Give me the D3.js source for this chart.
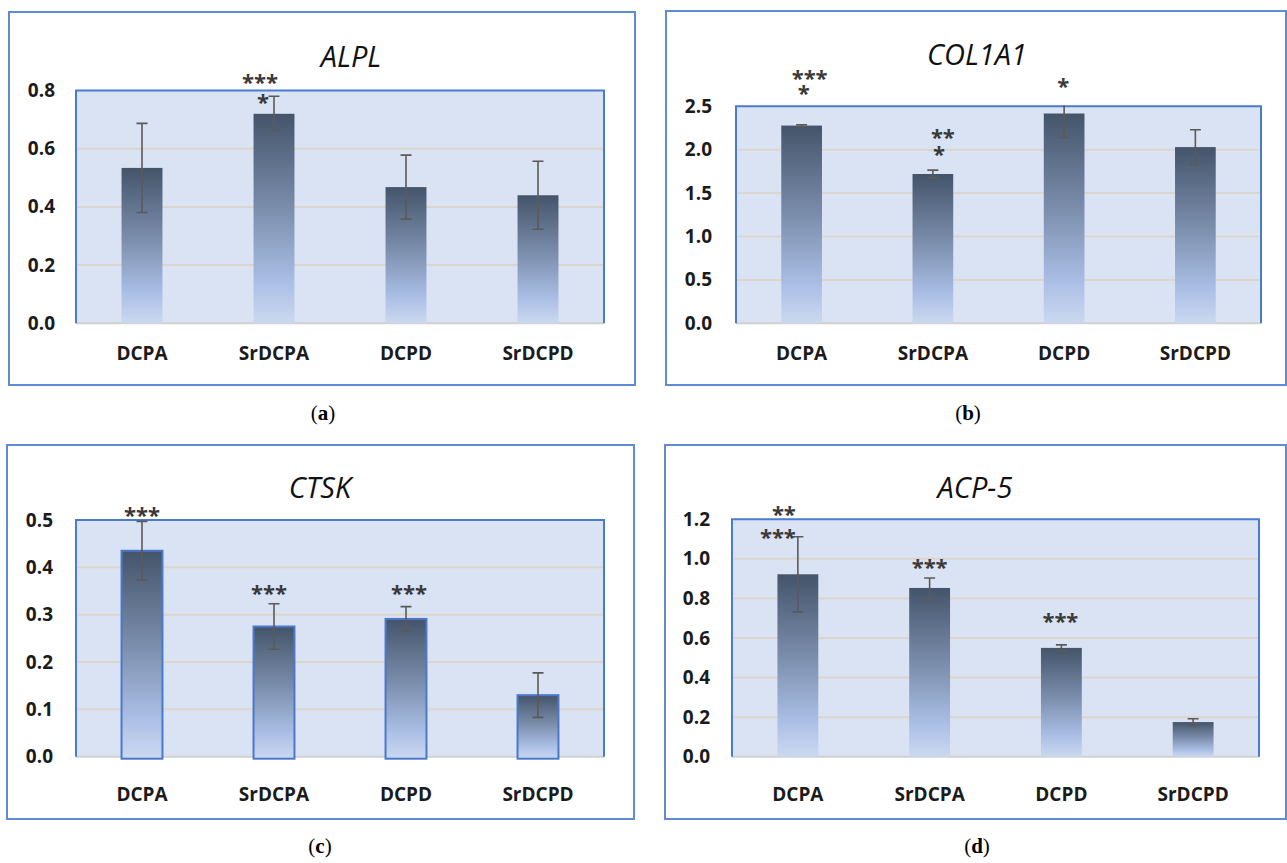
<!DOCTYPE html>
<html>
<head>
<meta charset="utf-8">
<script src="https://cdn.jsdelivr.net/npm/d3@7"></script>
<style>
  body { margin: 0; background: #fff; }
  svg { display: block; }
</style>
</head>
<body>
<svg id="fig" width="1287" height="863"></svg>
<script>
// ---- data -------------------------------------------------------------
const groups = ["DCPA", "SrDCPA", "DCPD", "SrDCPD"];

const alplMean  = [0.534, 0.720, 0.468, 0.440];
const alplSd    = [0.153, 0.060, 0.110, 0.117];
const alplTicks = [0.0, 0.2, 0.4, 0.6, 0.8];
const alplSig   = [[], ["***", "*"], [], []];

const col1a1Mean  = [2.278, 1.720, 2.417, 2.030];
const col1a1Sd    = [0.010, 0.045, 0.277, 0.200];
const col1a1Ticks = [0.0, 0.5, 1.0, 1.5, 2.0, 2.5];
const col1a1Sig   = [["***", "*"], ["**", "*"], ["*"], []];

const ctskMean  = [0.435, 0.275, 0.291, 0.130];
const ctskSd    = [0.062, 0.048, 0.026, 0.047];
const ctskTicks = [0.0, 0.1, 0.2, 0.3, 0.4, 0.5];
const ctskSig   = [["***"], ["***"], ["***"], []];

const acp5Mean  = [0.922, 0.853, 0.550, 0.175];
const acp5Sd    = [0.190, 0.050, 0.015, 0.017];
const acp5Ticks = [0.0, 0.2, 0.4, 0.6, 0.8, 1.0, 1.2];
const acp5Sig   = [["**", "***"], ["***"], ["***"], []];

// ---- layout -----------------------------------------------------------
// frame: [x, y, w, h]; plot: [left, top, right, bottom]
// sigPos: per bar, per line of stars: [dx, dy] of glyph centre from whisker top
const panels = [
  { title: "ALPL", tag: "a", mean: alplMean, sd: alplSd, ticks: alplTicks, sig: alplSig,
    frame: [9, 12, 626, 373], plot: [76, 90.5, 604, 323.3],
    titleX: 351, titleY: 67, yLabelRight: 55, xLabelY: 360, capX: 323, capY: 420,
    sigPos: [null, [[-14, -19], [-11, 1]], null, null], outlined: false },
  { title: "COL1A1", tag: "b", mean: col1a1Mean, sd: col1a1Sd, ticks: col1a1Ticks, sig: col1a1Sig,
    frame: [666, 11, 620, 374], plot: [736, 106.3, 1261, 323.3],
    titleX: 977, titleY: 65, yLabelRight: 712, xLabelY: 360, capX: 968, capY: 420,
    sigPos: [[[8, -51], [2, -36]], [[10, -38], [6, -21]], [[-1, -8]], null], outlined: false },
  { title: "CTSK", tag: "c", mean: ctskMean, sd: ctskSd, ticks: ctskTicks, sig: ctskSig,
    frame: [7, 445, 627, 374], plot: [76, 520, 604, 756.7],
    titleX: 320, titleY: 498, yLabelRight: 53, xLabelY: 801, capX: 320, capY: 853,
    sigPos: [[[0, -11]], [[-5, -15]], [[3, -18]], null], outlined: true },
  { title: "ACP-5", tag: "d", mean: acp5Mean, sd: acp5Sd, ticks: acp5Ticks, sig: acp5Sig,
    frame: [665, 445, 621, 374], plot: [732, 519.3, 1259, 756.7],
    titleX: 975, titleY: 498, yLabelRight: 710, xLabelY: 801, capX: 977, capY: 853,
    sigPos: [[[-14, -27], [-20, -4]], [[0, -16]], [[-1, -28]], null], outlined: false }
];

const SANS = "'Open Sans', 'Liberation Sans', sans-serif";
const SERIF = "'Liberation Serif', 'DejaVu Serif', serif";

const svg = d3.select("#fig");
const defs = svg.append("defs");

// vertical shading used by every bar: dark slate at the top, pale blue at the base
const grad = defs.append("linearGradient")
  .attr("id", "barFill").attr("x1", 0).attr("y1", 0).attr("x2", 0).attr("y2", 1);
[[0, "#44546a"], [0.45, "#7a8dab"], [0.8, "#aabee5"], [1, "#cbd8ef"]]
  .forEach(([o, c]) => grad.append("stop").attr("offset", o).attr("stop-color", c));

panels.forEach((p, pi) => {
  const g = svg.append("g").attr("class", "panel");
  const [fx, fy, fw, fh] = p.frame;
  const [L, T, R, B] = p.plot;
  const yMax = d3.max(p.ticks);

  // outer frame
  g.append("rect")
    .attr("x", fx).attr("y", fy).attr("width", fw).attr("height", fh)
    .attr("fill", "#fff").attr("stroke", "#5f8ad6").attr("stroke-width", 2);

  const y = d3.scaleLinear().domain([0, yMax]).range([B, T]);
  const x = d3.scaleBand().domain(groups).range([L, R])
    .paddingInner(0.69).paddingOuter(0.345);

  // plot area background
  g.append("rect")
    .attr("x", L).attr("y", y(yMax)).attr("width", R - L).attr("height", y(0) - y(yMax))
    .attr("fill", "#dae3f3");

  // horizontal gridlines
  g.append("g").selectAll("line")
    .data(p.ticks.filter(t => t > 0 && t < yMax))
    .join("line")
    .attr("x1", L).attr("x2", R)
    .attr("y1", d => y(d)).attr("y2", d => y(d))
    .attr("stroke", "#dcd5cb").attr("stroke-width", 2);

  // baseline
  g.append("line")
    .attr("x1", L).attr("x2", R).attr("y1", y(0)).attr("y2", y(0))
    .attr("stroke", "#d0d0d0").attr("stroke-width", 2);

  // plot border (top, left, right)
  g.append("path")
    .attr("d", `M${L},${y(0)}V${y(yMax)}H${R}V${y(0)}`)
    .attr("fill", "none").attr("stroke", "#4a7bd1").attr("stroke-width", 2);

  // y axis labels
  const yAx = g.append("g")
    .attr("transform", `translate(${p.yLabelRight},0)`)
    .call(d3.axisLeft(y).tickValues(p.ticks).tickFormat(d3.format(".1f"))
      .tickSize(0).tickPadding(0));
  yAx.select(".domain").remove();
  yAx.selectAll("text")
    .attr("font-family", SANS).attr("font-size", 19).attr("font-weight", 700)
    .attr("fill", "#1b1b1b");

  // x axis labels
  const xAx = g.append("g")
    .attr("transform", `translate(0,${p.xLabelY})`)
    .call(d3.axisBottom(x).tickSize(0).tickPadding(0));
  xAx.select(".domain").remove();
  xAx.selectAll("text")
    .attr("dy", 0)
    .attr("font-family", SANS).attr("font-size", 19).attr("font-weight", 700)
    .attr("fill", "#1b1b1b");

  // bars
  const bars = g.append("g").selectAll("rect")
    .data(groups)
    .join("rect")
    .attr("x", d => x(d))
    .attr("width", x.bandwidth())
    .attr("y", (d, i) => y(p.mean[i]))
    .attr("height", (d, i) => y(0) - y(p.mean[i]) + (p.outlined ? 2 : 0))
    .attr("fill", "url(#barFill)");
  if (p.outlined) bars.attr("stroke", "#4a78cc").attr("stroke-width", 2);

  // error bars, clipped to the plot area
  const clipId = "plotClip" + pi;
  defs.append("clipPath").attr("id", clipId)
    .append("rect").attr("x", L).attr("y", y(yMax) - 1)
    .attr("width", R - L).attr("height", y(0) - y(yMax) + 1);
  const eb = g.append("g").attr("clip-path", `url(#${clipId})`)
    .attr("stroke", "#5a5a5a").attr("stroke-width", 1.6);
  groups.forEach((d, i) => {
    const cx = x(d) + x.bandwidth() / 2;
    const hi = y(p.mean[i] + p.sd[i]);
    const lo = y(p.mean[i] - p.sd[i]);
    eb.append("line").attr("x1", cx).attr("x2", cx).attr("y1", hi).attr("y2", lo);
    eb.append("line").attr("x1", cx - 5.5).attr("x2", cx + 5.5).attr("y1", hi).attr("y2", hi);
    eb.append("line").attr("x1", cx - 5.5).attr("x2", cx + 5.5).attr("y1", lo).attr("y2", lo);
  });

  // significance stars: one text per bar, stacked lines as tspans
  p.sig.forEach((lines, i) => {
    if (!lines.length) return;
    const cx = x(groups[i]) + x.bandwidth() / 2;
    const top = y(p.mean[i] + p.sd[i]);
    const t = g.append("text")
      .attr("text-anchor", "middle")
      .attr("font-family", SANS).attr("font-size", 22).attr("font-weight", 700)
      .attr("fill", "#3a3a3a");
    lines.forEach((s, j) => {
      const [dx, dy] = p.sigPos[i][j];
      t.append("tspan")
        .attr("x", cx + dx).attr("y", top + dy + 12.5)
        .text(s);
    });
  });

  // chart title
  g.append("text")
    .attr("x", p.titleX).attr("y", p.titleY)
    .attr("text-anchor", "middle")
    .attr("font-family", SANS).attr("font-style", "italic").attr("font-size", 29)
    .attr("fill", "#111")
    .text(p.title);

  // panel caption
  const cap = svg.append("text")
    .attr("x", p.capX).attr("y", p.capY)
    .attr("text-anchor", "middle")
    .attr("font-family", SERIF).attr("font-size", 21).attr("fill", "#000");
  cap.append("tspan").text("(");
  cap.append("tspan").attr("font-weight", 700).text(p.tag);
  cap.append("tspan").text(")");
});
</script>
</body>
</html>
